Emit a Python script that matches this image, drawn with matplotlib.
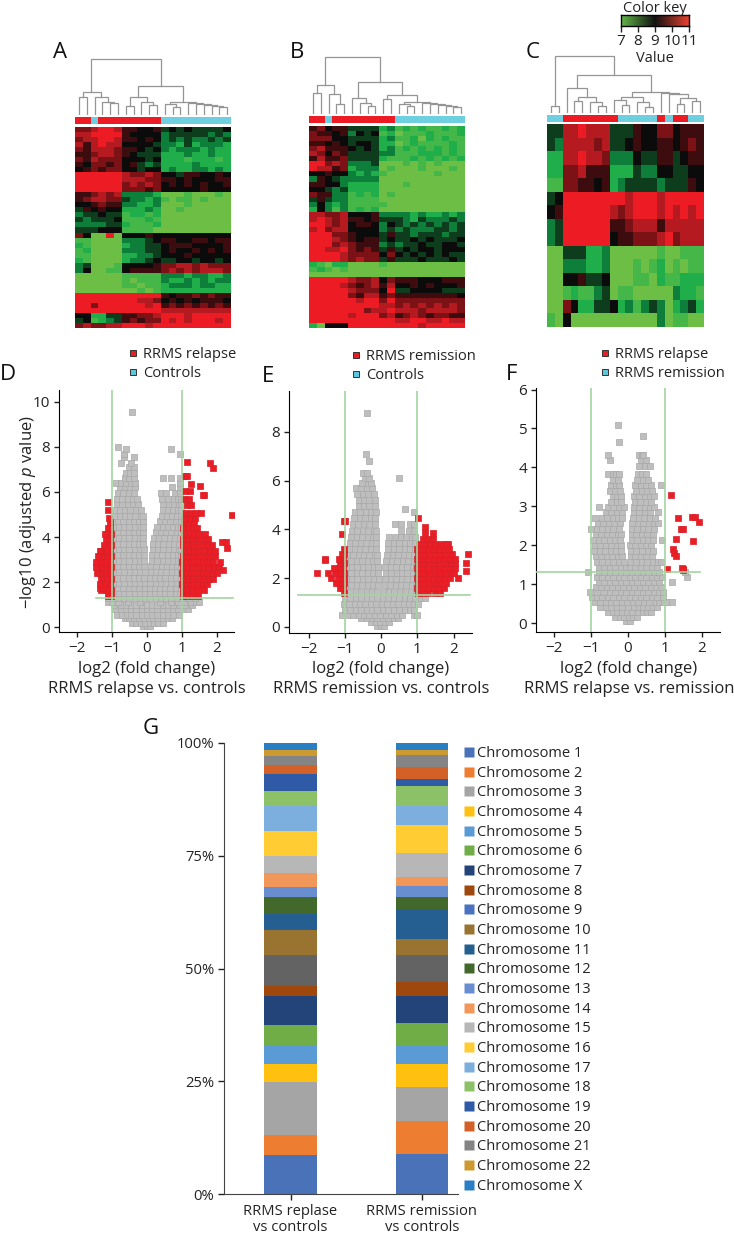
import numpy as np
import matplotlib
matplotlib.use('Agg')
import matplotlib.pyplot as plt
from matplotlib.colors import LinearSegmentedColormap, ListedColormap
from matplotlib.lines import Line2D

plt.rcParams['font.family'] = ['Open Sans', 'DejaVu Sans']
plt.rcParams['mathtext.fontset'] = 'custom'
plt.rcParams['mathtext.it'] = 'Open Sans:italic'
plt.rcParams['mathtext.rm'] = 'Open Sans'

# heatmaps: one digit per cell, 0 = value 7 ... 9 = value 11
a_rows = [
    "77 8998 66 556 454544445", "88 9999 65 555 344444343", "78 8998 66 565 343433434",
    "86 8988 55 554 332423332", "76 8887 66 545 323332322", "66 7887 65 444 222322322",
    "76 8777 55 545 222122212", "65 7767 56 434 222232222", "56 7677 55 455 232233232",
    "99 9999 87 787 554665565", "99 9999 88 877 665655566", "99 9999 78 787 565656556",
    "99 9999 77 767 555556555", "66 7878 33 332 000100010", "67 8877 43 323 101101000",
    "55 6766 33 223 000100000", "46 5655 22 232 001000000", "34 4544 12 212 000000000",
    "43 4445 11 121 000000000", "33 3344 21 112 000000000", "44 4555 11 110 000000000",
    "75 0090 55 565 555555555", "11 0000 33 345 665566566", "21 0000 23 344 566655556",
    "12 0000 33 344 565565656", "11 0000 22 334 555655555", "21 0000 23 345 445545545",
    "34 0001 55 556 778878777", "35 0011 56 666 787878887", "00 0000 11 111 333233223",
    "00 0000 10 111 322323233", "00 0000 11 011 233323322", "00 0000 00 101 222222222",
    "99 9999 99 999 656676766", "99 9999 99 887 565656665", "99 7999 99 989 676767676",
    "99 9999 99 999 888888888", "55 2244 66 778 999899999", "45 1234 67 677 989899989",
    "78 7788 99 989 999999999",
]
b_rows = [
    "67 566 4444 23 121211212", "76 656 3545 12 011121112", "77 755 4444 23 112021211",
    "66 565 4554 22 012111121", "78 666 5454 23 121212121", "87 576 4444 33 111222121",
    "68 667 4444 21 112121212", "99 787 3334 00 010101000", "98 867 2333 01 000100010",
    "55 655 3232 10 000001000", "36 543 3333 00 000000000", "66 553 2222 00 010000000",
    "55 434 2222 00 000000000", "76 633 1212 01 000000000", "46 433 1111 00 000000000",
    "35 323 1111 10 000000000", "25 313 1212 00 000000000", "88 778 5556 33 332322323",
    "89 878 6656 44 432433343", "99 878 5665 35 434343434", "89 788 5555 34 343334434",
    "99 977 6555 46 443444344", "99 987 6566 45 445454445", "99 978 7666 34 344544554",
    "99 889 7676 46 454554555", "99 998 7777 57 545454544", "99 998 7877 46 444544454",
    "21 022 0000 10 000000000", "12 101 0000 00 000000000", "00 000 0000 00 000000000",
    "99 999 8778 57 666555666", "99 998 7678 68 556565556", "99 999 8777 59 445555444",
    "99 999 7688 67 666666665", "99 999 9899 79 777777777", "99 999 9999 88 787878787",
    "99 999 9978 89 888788887", "99 999 8999 78 678767766", "99 999 9999 99 889988988",
    "20 555 9999 99 999899999",
]
c_rows = [
    "44889888444655775666", "43888878445655665676", "22889887333544664566",
    "22778666222433554455", "11776656234444344465", "45999999998999899999",
    "56999999878999898989", "34999999667888688888", "34999999566777897888",
    "00444223000000100111", "00333223000101201011", "00556445000110211222",
    "00121134011000003221", "00752244523134302342", "10500000000000301100",
]

a_groups = "rrbrrrrrrrrbbbbbbbbb"
b_groups = "rrbrrrrrrrrbbbbbbbbb"
c_groups = "bbrrrrrrrbbbbbrbrrbb"

# dendrogram merges: left col, left height, right col, right height, merge height
a_merges = [
    (0.5, 0, 1.5, 0, 18), (4.5, 0, 5.5, 0, 12), (3.5, 0, 5, 12, 13), (2.5, 0, 4.25, 13, 18),
    (1, 18, 3.3, 18, 23), (6.5, 0, 7.5, 0, 9), (9.5, 0, 10.5, 0, 10), (8.5, 0, 10, 10, 13),
    (7, 9, 9.2, 13, 18), (12.5, 0, 13.5, 0, 8), (11.5, 0, 13, 8, 11), (18.5, 0, 19.5, 0, 8),
    (17.5, 0, 19, 8, 9), (16.5, 0, 18.2, 9, 10), (15.5, 0, 17.4, 10, 11), (14.5, 0, 16.4, 11, 12),
    (12.2, 11, 15.5, 12, 13), (8.1, 18, 13.8, 13, 29), (2.1, 23, 11, 29, 55.7),
]
b_merges = [
    (0.5, 0, 1.5, 0, 21), (3.5, 0, 4.5, 0, 10.5), (2.5, 0, 4, 10.5, 20), (1, 21, 3.25, 20, 28.7),
    (7.5, 0, 8.5, 0, 8), (6.5, 0, 8, 8, 11), (5.5, 0, 7.25, 11, 16), (9.5, 0, 10.5, 0, 15),
    (12.5, 0, 13.5, 0, 8), (11.5, 0, 13, 8, 10), (18.5, 0, 19.5, 0, 7.5), (17.5, 0, 19, 7.5, 8.5),
    (16.5, 0, 18.2, 8.5, 9.5), (15.5, 0, 17.4, 9.5, 10.5), (14.5, 0, 16.4, 10.5, 11.5),
    (12.2, 10, 15.5, 11.5, 12.5), (10, 15, 13.8, 12.5, 19.3), (6.3, 16, 11.9, 19.3, 31.7),
    (2.05, 28.7, 9.1, 31.7, 56.7),
]
c_merges = [
    (0.5, 0, 1.5, 0, 7), (3.5, 0, 4.5, 0, 12), (6.5, 0, 7.5, 0, 6.7), (5.5, 0, 7, 6.7, 11),
    (4, 12, 6.3, 11, 15.7), (2.5, 0, 5.1, 15.7, 25), (9.5, 0, 10.5, 0, 7.7), (8.5, 0, 10, 7.7, 12.7),
    (12.5, 0, 13.5, 0, 6), (11.5, 0, 13, 6, 11), (9.4, 12.7, 12.2, 11, 16), (16.5, 0, 17.5, 0, 9),
    (18.5, 0, 19.5, 0, 11.7), (17, 9, 19, 11.7, 15), (15.5, 0, 18, 15, 19), (14.5, 0, 16.8, 19, 20),
    (10.8, 16, 15.6, 20, 21), (3.85, 25, 13.2, 21, 37.7), (1, 7, 8.55, 37.7, 57),
]

# volcano points, one row per -log10 level: (y, [x, ...])
d_gray = [
    (0.05, [-.1, 0, .1]), (0.2, [-.42, -.3, -.18, -.05, .08, .2, .32, .45]),
    (0.4, [-.62, -.5, -.36, -.22, -.08, .05, .18, .32, .46, .6, .72]),
    (0.55, [-.86, -.72, -.58, -.44, -.3, -.15, 0, .15, .3, .45, .6, .75, .92]),
    (0.8, [-.9, -.75, -.6, -.45, -.3, -.15, 0, .15, .3, .45, .6, .75, .9, 1.05, 1.18]),
    (1.0, [-.95, -.75, -.6, -.45, -.3, -.15, 0, .15, .3, .45, .6, .75, .95, 1.1, 1.3]),
    (1.12, [-1.12, -1.0, -.82, -.55, -.2, .38, .68, .9, 1.05, 1.25, 1.4, 1.5]),
    (1.3, [-1.1, -.95, -.8, -.65, -.5, -.35, -.2, -.05, .1, .25, .4, .55, .7, .85, 1.0, 1.2, 1.38]),
    (1.5, [-.95, -.8, -.65, -.5, -.35, -.2, -.05, .08, .22, .37, .52, .67, .82, .96]),
    (1.72, [-.97, -.82, -.67, -.52, -.37, -.22, -.06, .08, .22, .37, .52, .67, .82, .97]),
    (1.95, [-.94, -.79, -.64, -.49, -.34, -.19, -.05, .1, .25, .4, .55, .7, .85, .98]),
    (2.2, [-.97, -.82, -.67, -.52, -.37, -.22, -.07, .08, .23, .38, .53, .68, .83, .97]),
    (2.45, [-.94, -.79, -.64, -.49, -.34, -.19, -.06, .11, .26, .41, .56, .71, .86, .98]),
    (2.7, [-.97, -.82, -.67, -.52, -.37, -.22, -.08, .12, .27, .42, .57, .72, .87, .97]),
    (2.95, [-.95, -.8, -.65, -.5, -.35, -.2, -.08, .15, .3, .45, .6, .75, .9, .98]),
    (3.2, [-.97, -.82, -.67, -.52, -.37, -.22, -.09, .14, .29, .44, .59, .74, .89, .97]),
    (3.45, [-.95, -.8, -.65, -.5, -.35, -.2, -.09, .17, .32, .47, .62, .77, .92, .98]),
    (3.7, [-.97, -.82, -.67, -.52, -.37, -.22, -.1, .17, .32, .47, .62, .77, .92]),
    (3.95, [-.95, -.8, -.65, -.5, -.35, -.2, -.1, .2, .35, .5, .65, .8, .95]),
    (4.2, [-.97, -.82, -.67, -.52, -.37, -.22, -.1, .25, .4, .55, .7, .85, .97]),
    (4.45, [-.95, -.8, -.65, -.5, -.35, -.2, -.11, .3, .45, .6, .75, .9, .98]),
    (4.7, [-.97, -.82, -.67, -.52, -.37, -.22, -.12, .37, .52, .67, .82, .97]),
    (4.95, [-.93, -.78, -.63, -.48, -.33, -.18, -.12, .42, .57, .72, .87, .98]),
    (5.2, [-.92, -.77, -.62, -.47, -.32, -.18, .45, .6, .75, .9, .97]),
    (5.45, [-.85, -.7, -.55, -.4, -.25, .47, .62, .77, .92, .98]),
    (5.7, [-.85, -.7, -.55, -.4, -.28, .42, .6, .78, .9, .98]),
    (5.95, [-.82, -.67, -.52, -.37, .4, .55, .8, .95]),
    (6.2, [-.78, -.63, -.48, -.35, .72, .95]),
    (6.42, [-.87, -.75, -.6, -.45, -.35, .95]),
    (6.6, [-.62, -.5, -.36, .45, .7, .95]),
    (6.85, [-.6, -.48, -.36]),
    (7.1, [-.5, -.38]),
    (7.3, [-.75, -.45]), (7.55, [-.38, -.65]), (7.7, [-.65, .95]), (7.9, [-.6, .68]), (8.0, [-.83]),
    (9.55, [-.43]),
]
d_red = [
    (1.4, [1.02, 1.15, 1.3, 1.45, -1.02, -1.12]),
    (1.65, [1.02, 1.17, 1.32, 1.47, 1.62, -1.02, -1.17, -1.3]),
    (1.75, [-1.35, -1.25]),
    (1.9, [1.0, 1.15, 1.3, 1.45, 1.6, 1.72, -1.05, -1.2, -1.33]),
    (2.15, [1.03, 1.18, 1.33, 1.48, 1.63, 1.78, 1.9, -1.02, -1.17, -1.32]),
    (2.4, [1.0, 1.15, 1.3, 1.45, 1.6, 1.75, 1.9, 2.0, -1.05, -1.2, -1.35, -1.42]),
    (2.65, [1.03, 1.18, 1.33, 1.48, 1.63, 1.78, 1.93, 2.05, -1.02, -1.17, -1.32, -1.45]),
    (2.9, [1.0, 1.15, 1.3, 1.45, 1.6, 1.75, 1.9, 2.08, -1.05, -1.2, -1.35, -1.45]),
    (3.15, [1.02, 1.17, 1.32, 1.47, 1.62, 1.77, 1.95, -1.02, -1.17, -1.32, -1.4]),
    (3.4, [1.05, 1.2, 1.35, 1.5, 1.65, 1.8, 1.95, -1.05, -1.18, -1.3, -1.33]),
    (3.65, [1.02, 1.17, 1.32, 1.47, 1.62, 1.75, 1.85, -1.02, -1.15, -1.22]),
    (3.9, [1.03, 1.18, 1.33, 1.48, 1.65, 1.75, -1.05, -1.18]),
    (4.15, [1.05, 1.2, 1.35, 1.5, 1.65, -1.02, -1.15, -1.2]),
    (4.4, [1.02, 1.17, 1.32, 1.42, -1.05, -1.12]),
    (4.65, [1.05, 1.2, 1.35, -1.05]), (4.85, [1.07, 1.22, 1.37, -1.07]),
    (5.05, [1.1, 1.25, 1.4, 1.55]), (5.2, [-1.1]), (5.4, [1.15, 1.25]), (5.55, [-1.1]),
    (5.7, [1.05, 1.2]), (5.85, [1.62, 1.6]), (6.05, [1.1, 1.22]), (6.25, [1.52]), (6.35, [1.25]),
    (6.7, [1.1, 1.14]), (7.05, [1.9]), (7.3, [1.8]), (7.35, [1.15]),
    (4.97, [2.43]), (3.8, [2.27, 2.15]), (3.5, [2.3]), (2.55, [2.18]),
]
e_gray = [
    (0.05, [-.1, 0, .08]), (0.2, [-.28, -.15, -.03, .1, .22]),
    (0.35, [-.55, -.4, -.25, -.1, .05, .2, .35, .48]),
    (0.5, [-1.07, -.92, -.77, -.62, -.47, -.32, -.17, -.02, .13, .28, .43, .58, .9, .98]),
    (0.7, [-1.0, -.85, -.7, -.55, -.4, -.25, -.1, .05, .2, .35, .5, .65, .8, .92]),
    (0.95, [-1.03, -.88, -.73, -.58, -.43, -.28, -.13, .02, .17, .32, .47, .62, .77, .92, 1.02]),
    (1.2, [-1.0, -.85, -.7, -.55, -.4, -.25, -.1, .05, .2, .35, .5, .65, .8, .95, 1.1, 1.22]),
    (1.45, [-1.0, -.85, -.7, -.55, -.4, -.25, -.1, .08, .22, .37, .52, .67, .82, .97]),
    (1.7, [-.97, -.82, -.67, -.52, -.37, -.22, -.08, .1, .25, .4, .55, .7, .85, .97]),
    (1.95, [-.95, -.8, -.65, -.5, -.35, -.2, -.06, .12, .27, .42, .57, .72, .87, .98]),
    (2.2, [-.97, -.82, -.67, -.52, -.37, -.22, -.08, .13, .28, .43, .58, .73, .88, .98]),
    (2.45, [-.95, -.8, -.65, -.5, -.35, -.2, -.08, .12, .27, .42, .57, .72, .87, .97]),
    (2.7, [-.97, -.82, -.67, -.52, -.37, -.22, -.1, .15, .3, .45, .6, .75, .9, .98]),
    (2.95, [-.92, -.77, -.62, -.47, -.32, -.17, -.1, .17, .32, .47, .62, .77, .92]),
    (3.2, [-.88, -.73, -.58, -.43, -.28, -.13, .2, .35, .5, .65, .8, .95]),
    (3.45, [-.86, -.71, -.56, -.41, -.26, -.13, .2, .35, .5, .65, .8, .95]),
    (3.7, [-.82, -.67, -.52, -.37, -.22, -.14, .22, .4, .55, .7, .85, .95]),
    (3.95, [-.8, -.65, -.5, -.35, -.2, -.15, .55, .78, .92]),
    (4.2, [-.78, -.63, -.48, -.33, -.18, .38, .55, .8, .92]),
    (4.45, [-.74, -.59, -.44, -.29, -.16]),
    (4.7, [-.72, -.57, -.42, -.27, -.14, .9]),
    (4.85, [.65]),
    (4.95, [-.62, -.47, -.32, -.17]), (5.2, [-.62, -.47, -.32, -.18]),
    (5.45, [-.66, -.5, -.36, -.2]), (5.7, [-.68, -.55, -.4, -.25]),
    (5.9, [-.52, -.36, -.28]), (6.1, [-.45, -.33, .5]), (6.3, [-.5, -.38]),
    (6.8, [-.34]), (7.1, [-.42]), (8.75, [-.4]),
]
e_red = [
    (1.4, [1.02, 1.17, 1.3, 1.5, 1.62, -1.03]),
    (1.6, [1.0, 1.15, 1.3, 1.45, 1.6, 1.75, -1.05, -1.13]),
    (1.8, [1.03, 1.18, 1.33, 1.48, 1.63, 1.78, -1.02, -1.17, -1.25]),
    (2.0, [1.0, 1.15, 1.3, 1.45, 1.6, 1.75, 1.9, 2.13, -1.03, -1.18, -1.38]),
    (2.2, [1.03, 1.18, 1.33, 1.48, 1.63, 1.78, 1.93, 2.02, -1.02, -1.17, -1.28, -1.47]),
    (2.4, [1.0, 1.15, 1.3, 1.45, 1.6, 1.75, 1.9, 2.05, -1.05, -1.15, -1.3]),
    (2.6, [1.03, 1.18, 1.33, 1.48, 1.63, 1.78, 1.93, 2.05, -1.02, -1.12]),
    (2.8, [1.0, 1.15, 1.3, 1.45, 1.6, 1.75, 1.9, 2.03, -1.05, -1.15, -1.55]),
    (3.0, [1.03, 1.18, 1.33, 1.48, 1.63, 1.78, 1.95, -1.02, -1.08]),
    (3.2, [1.0, 1.15, 1.3, 1.45, 1.6, 1.75, 1.88, -1.03]),
    (3.4, [1.05, 1.2, 1.35, 1.5, 1.65, 1.85, 1.78]),
    (3.6, [1.15, 1.3, 1.42]), (3.85, [1.22, 1.42]), (3.8, [-1.08]), (4.1, [1.2]),
    (4.35, [-1.03, -1.0]), (4.45, [1.02]), (2.2, [-1.78]), (2.75, [-1.55]),
    (3.0, [2.4]), (2.6, [2.35]), (2.3, [2.35]),
]
f_gray = [
    (0.05, [-.05, .05]), (0.15, [-.34, -.22, -.1, .02, .14, .25]),
    (0.28, [-.55, -.42, -.3, -.16, -.02, .12, .26, .4, .52, .62]),
    (0.42, [-.75, -.6, -.45, -.3, -.15, 0, .15, .3, .42, .55, .68, .8]),
    (0.55, [-.9, -.75, -.6, -.47, -.32, -.17, -.02, .13, .28, .43, .58, .75, .85, .97, 1.05, 1.2]),
    (0.68, [-.98, -.85, -.7, -.55, -.4, -.25, -.1, .05, .2, .35, .5, .65, .8, .95]),
    (0.8, [-1.02, -.85, -.65, -.5, -.35, -.2, -.05, .1, .25, .4, .55, .7, .85, .95]),
    (0.92, [-.88, -.73, -.58, -.43, -.28, -.13, .02, .17, .32, .47, .62, .77, .9]),
    (1.05, [-.8, -.65, -.5, -.35, -.2, -.05, .1, .25, .4, .55, .7, .85, 1.2]),
    (1.18, [-.85, -.7, -.55, -.4, -.25, -.1, .05, .2, .35, .5, .65, .8, .92, 1.6]),
    (1.3, [-1.08, -.8, -.65, -.5, -.35, -.2, -.05, .1, .25, .4, .55, .7, .85, 1.55]),
    (1.45, [-.8, -.65, -.5, -.35, -.2, -.05, .06, .2, .35, .5, .65, .8]),
    (1.58, [-.85, -.7, -.55, -.4, -.25, -.12, .08, .22, .37, .52, .67, .82, .9]),
    (1.72, [-.88, -.73, -.58, -.43, -.28, -.15, .08, .2, .35, .5, .65]),
    (1.86, [-.92, -.77, -.62, -.47, -.32, -.18, .08, .23, .38, .53, .68]),
    (2.0, [-.9, -.75, -.6, -.45, -.3, -.2, .06, .2, .35, .5, .62]),
    (2.14, [-.95, -.8, -.65, -.5, -.35, -.22, .1, .25, .4, .55, .68, .93]),
    (2.28, [-.88, -.73, -.58, -.43, -.28, -.2, .1, .22, .37, .52, .67]),
    (2.42, [-1.0, -.85, -.7, -.55, -.4, -.25, .1, .25, .4, .55, .72]),
    (2.56, [-.82, -.67, -.52, -.37, -.22, .12, .27, .42, .57, .72, .82]),
    (2.7, [-.9, -.72, -.57, -.42, -.27, -.15, .14, .29, .44, .59, .74]),
    (2.85, [-.6, -.45, -.3, -.15, .15, .3, .45, .6, .82]),
    (2.98, [-.78, -.55, -.4, -.25, -.12, .15, .3, .45, .6, .72]),
    (3.12, [-.45, -.3, -.18, .18, .33, .48, .63]),
    (3.26, [-.42, -.3, -.2, .15, .3, .45, .6, .7]),
    (3.4, [-.5, -.35, -.22, .22, .37, .52, .65]),
    (3.55, [-.45, -.32, -.25, .2, .35, .5, .62, .9]),
    (3.68, [-.4, -.28, .25, .4, .55]), (3.82, [-.55, -.42, -.32, -.25, .27, .38, .48]),
    (4.03, [.3, .45, .6]), (4.2, [-.48, .35, .5]), (4.32, [-.55, .3, .38, .42]),
    (4.65, [-.24]), (4.8, [.4]), (5.1, [-.27]),
]
f_red = [
    (3.28, [1.17]), (2.7, [1.37]), (2.73, [1.75, 1.82]), (2.6, [1.93]), (2.42, [1.43, 1.5]),
    (2.17, [1.3]), (2.1, [1.77]), (1.9, [1.23]), (1.8, [1.26]), (1.72, [1.3]),
    (1.4, [1.05, 1.5]), (1.42, [1.47]), (1.37, [1.5]),
]

d_legend = ["RRMS relapse", "Controls"]
e_legend = ["RRMS remission", "Controls"]
f_legend = ["RRMS relapse", "RRMS remission"]

# stacked bars, percent per chromosome
chromosomes = ["Chromosome %d" % i for i in range(1, 23)] + ["Chromosome X"]
relapse_pct = [8.65, 4.5, 11.75, 3.9, 4.2, 4.5, 6.3, 2.3, 6.8, 5.6, 3.6, 3.8, 2.1, 3.1, 3.9,
               5.4, 5.7, 3.3, 3.8, 2.0, 2.0, 1.3, 1.5]
remission_pct = [8.8, 7.3, 7.6, 5.1, 4.1, 5.1, 5.8, 3.3, 5.8, 3.7, 6.7, 2.6, 2.3, 2.1, 5.2,
                 6.3, 4.2, 4.4, 1.6, 2.7, 2.7, 1.0, 1.6]
bar_names = ["RRMS replase\nvs controls", "RRMS remission\nvs controls"]
bar_colors = ['#4a72b8', '#ed7d31', '#a5a5a5', '#ffc00f', '#5b9bd5', '#70ad47', '#234478', '#9e480e',
              '#636363', '#997330', '#255e91', '#43682b', '#698ed0', '#f1975a', '#b7b7b7', '#ffcd33',
              '#7cafdd', '#8cc168', '#2f5aa5', '#d26027', '#848484', '#cc9a2e', '#2a7fc4']
legend_colors = list(bar_colors)
legend_colors[8] = '#4a72c0'

W, H = 734, 1234
fig = plt.figure(figsize=(W / 100, H / 100), dpi=100)
TXT = '#222222'


def px_ax(x0, y0, x1, y1):
    return fig.add_axes([x0 / W, 1 - y1 / H, (x1 - x0) / W, (y1 - y0) / H])


def px_text(x, y, s, **kw):
    kw.setdefault('color', TXT)
    kw.setdefault('ha', 'center')
    kw.setdefault('va', 'center')
    fig.text(x / W, 1 - y / H, s, **kw)


heat_cmap = LinearSegmentedColormap.from_list('heat', [
    '#6dbe45', '#45b649', '#1fae4b', '#0e7f3a', '#0f3d1d',
    '#0b0b0b', '#3d0c0e', '#7c1216', '#b51a20', '#ed1c24'])
key_cmap = LinearSegmentedColormap.from_list('key', ['#62b84a', '#111111', '#e8412f'])
group_cmap = ListedColormap(['#6dcfe0', '#ed1c24'])


def heat_panel(rows, groups, merges, left, right, top, bottom, bar_top, bar_bottom):
    m = np.array([[7 + int(c) * 4 / 9 for c in r.replace(' ', '')] for r in rows])
    ax = px_ax(left, top, right, bottom)
    ax.imshow(m, cmap=heat_cmap, vmin=7, vmax=11, aspect='auto', interpolation='nearest')
    ax.axis('off')
    bar = px_ax(left, bar_top, right, bar_bottom)
    bar.imshow([[1 if g == 'r' else 0 for g in groups]], cmap=group_cmap, vmin=0, vmax=1,
               aspect='auto', interpolation='nearest')
    bar.axis('off')
    den = px_ax(left, bar_top - 62, right, bar_top - 2)
    den.set_xlim(0, m.shape[1])
    den.set_ylim(0, 60)
    den.axis('off')
    for xa, ha, xb, hb, h in merges:
        den.plot([xa, xa, xb, xb], [ha, h, h, hb], color='#949494', lw=.9, solid_joinstyle='miter')


heat_panel(a_rows, a_groups, a_merges, 75, 231, 127, 328, 117, 124)
heat_panel(b_rows, b_groups, b_merges, 309, 465, 126, 328, 116, 123)
heat_panel(c_rows, c_groups, c_merges, 547, 704, 124, 327, 115, 122)

key = px_ax(621, 15, 689, 26)
key.imshow([np.linspace(7, 11, 128)], cmap=key_cmap, aspect='auto', extent=[7, 11, 0, 1])
key.set_yticks([])
key.set_xticks([7, 8, 9, 10, 11])
key.tick_params(length=4, width=1, labelsize=11, pad=2, colors=TXT)
for s in key.spines.values():
    s.set_linewidth(1)
px_text(655, 8, "Color key", fontsize=10.5)
px_text(655, 58, "Value", fontsize=10.5)


def unpack(rows):
    xs, ys = [], []
    for y, row in rows:
        xs += row
        ys += [y] * len(row)
    return xs, ys


def volcano(rect, xlim, ylim, yticks, gray, red, hline, names, leg_xy):
    ax = px_ax(*rect)
    gx, gy = unpack(gray)
    rx, ry = unpack(red)
    ax.scatter(gx, gy, marker='s', s=17, c='#bebebe', edgecolors='#a8a8a8', linewidths=.5, zorder=2)
    ax.scatter(rx, ry, marker='s', s=17, c='#e91e26', edgecolors='#d81f26', linewidths=.5, zorder=3)
    for v in (-1, 1):
        ax.axvline(v, color='#a3d6a0', lw=1.2, zorder=4)
    ax.plot(hline, [1.3, 1.3], color='#a3d6a0', lw=1.2, zorder=4)
    ax.set_xlim(*xlim)
    ax.set_ylim(*ylim)
    ax.set_xticks([-2, -1, 0, 1, 2])
    ax.set_yticks(yticks)
    ax.tick_params(length=3.5, width=1, labelsize=11, colors=TXT, pad=3)
    ax.spines[['top', 'right']].set_visible(False)
    handles = [Line2D([], [], ls='none', marker='s', ms=5, mfc=c, mec='#333333', mew=.7)
               for c in ('#ed1c24', '#5cc6dc')]
    fig.legend(handles, names, loc='upper left', bbox_to_anchor=(leg_xy[0] / W, 1 - leg_xy[1] / H),
               frameon=False, fontsize=10.5, handletextpad=.15, labelspacing=.28,
               borderpad=0, borderaxespad=0, handlelength=1, labelcolor=TXT)
    return ax


volcano((59, 390, 234, 632), (-2.51, 2.49), (-.22, 10.53), [0, 2, 4, 6, 8, 10], d_gray, d_red,
        (-1.45, 2.45), d_legend, (126, 347))
volcano((289, 391, 472, 633), (-2.54, 2.51), (-.25, 9.67), [0, 2, 4, 6, 8], e_gray, e_red,
        (-2.3, 2.45), e_legend, (349, 349))
volcano((536, 388, 720, 632), (-2.5, 2.5), (-.23, 6.04), [0, 1, 2, 3, 4, 5, 6], f_gray, f_red,
        (-2.5, 1.95), f_legend, (598, 347))

px_text(28, 512, "\u2212log10 (adjusted $\\mathit{p}$ value)", rotation=90, fontsize=12)
for x, line1, line2 in [(147, "log2 (fold change)", "RRMS relapse vs. controls"),
                        (381, "log2 (fold change)", "RRMS remission vs. controls"),
                        (629, "log2 (fold change)", "RRMS relapse vs. remission")]:
    px_text(x, 669, line1, fontsize=12)
    px_text(x, 689, line2, fontsize=12)

for x, y, s in [(60, 52, 'A'), (297, 52, 'B'), (533, 53, 'C'), (8, 375, 'D'),
                (268, 377, 'E'), (512, 375, 'F'), (151, 728, 'G')]:
    px_text(x, y, s, fontsize=16, color='#111111')

ax = px_ax(224, 743, 458, 1194)
bottom = np.zeros(2)
for i, name in enumerate(chromosomes):
    vals = np.array([relapse_pct[i], remission_pct[i]])
    ax.bar([0, 1], vals, width=.4, bottom=bottom, color=bar_colors[i], label=name)
    bottom += vals
ax.set_xlim(-.506, 1.274)
ax.set_ylim(0, 100)
ax.set_yticks([0, 25, 50, 75, 100])
ax.set_yticklabels(['0%', '25%', '50%', '75%', '100%'])
ax.set_xticks([0, 1])
ax.set_xticklabels(bar_names, linespacing=1.1)
ax.tick_params(length=4, width=1, labelsize=10.6, colors=TXT, pad=3)
ax.spines[['top', 'right']].set_visible(False)
for s in ('left', 'bottom'):
    ax.spines[s].set_color('#444444')

handles = [Line2D([], [], ls='none', marker='s', ms=6.5, mfc=c, mec='none') for c in legend_colors]
fig.legend(handles, chromosomes, loc='upper left', bbox_to_anchor=(462 / W, 1 - 746 / H), frameon=False,
           fontsize=10.5, handletextpad=.05, labelspacing=.32, borderpad=0, borderaxespad=0,
           handlelength=1, labelcolor=TXT)

fig.savefig('out.png', dpi=100)
